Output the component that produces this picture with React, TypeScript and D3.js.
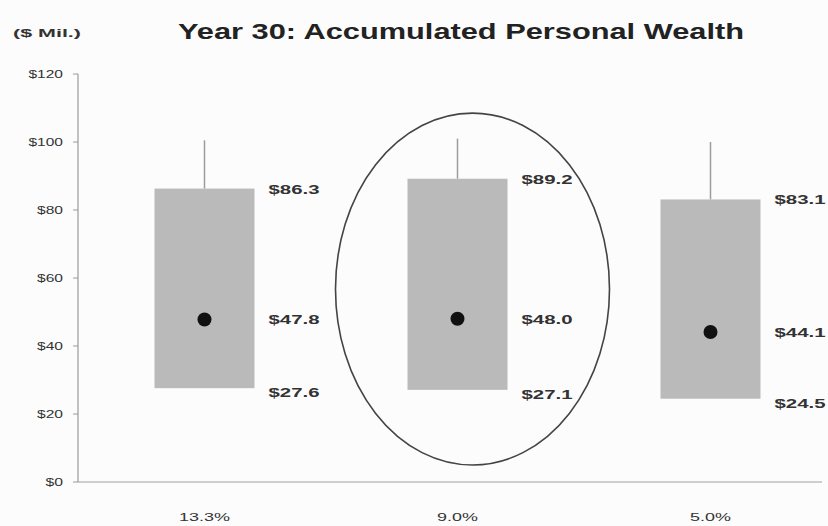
import React from "react";
import * as d3 from "d3";

const categories = ["13.3%", "9.0%", "5.0%"];
const highValues = [86.3, 89.2, 83.1];
const medianValues = [47.8, 48.0, 44.1];
const lowValues = [27.6, 27.1, 24.5];
const whiskerTops = [100.5, 101, 100];
const yTicks = [0, 20, 40, 60, 80, 100, 120];
const highlightIndex = 1;
const highlightRange = [5, 108.5];

const W = 828;
const H = 526;

export default function App() {
  const x = d3.scaleBand<string>().domain(categories).range([78, 837]).padding(0);
  const y = d3.scaleLinear().domain([0, 120]).range([482, 74]);
  const boxW = 100;
  const font = "'Liberation Sans', Arial, sans-serif";
  const cx = (i: number) => (x(categories[i]) as number) + x.bandwidth() / 2;
  const fmt = (v: number) => "$" + v.toFixed(1);

  const hx = cx(highlightIndex) + 15;
  const hy = (y(highlightRange[0]) + y(highlightRange[1])) / 2;
  const hry = (y(highlightRange[0]) - y(highlightRange[1])) / 2;

  return (
    <svg width={W} height={H} style={{ position: "absolute", left: 0, top: 0, background: "#fdfdfd" }}>
      <rect x={0} y={0} width={W} height={H} fill="#fcfcfc" />
      <text x={47} y={37} textAnchor="middle" fontFamily={font} fontSize={10} fontWeight="bold" fill="#333" textLength={68} lengthAdjust="spacingAndGlyphs">($ Mil.)</text>
      <text x={461} y={39} textAnchor="middle" fontFamily={font} fontSize={22} fontWeight="bold" fill="#222" textLength={566} lengthAdjust="spacingAndGlyphs">Year 30: Accumulated Personal Wealth</text>

      {/* y axis */}
      <line x1={78} x2={78} y1={y(120)} y2={y(0)} stroke="#9a9a9a" strokeWidth={1.2} />
      {yTicks.map((t) => (
        <g key={t}>
          <line x1={73} x2={78} y1={y(t)} y2={y(t)} stroke="#9a9a9a" strokeWidth={1} />
          <text x={63} y={y(t) + 4} textAnchor="end" fontFamily={font} fontSize={11} fill="#333" textLength={String(t).length * 8.5 + 9} lengthAdjust="spacingAndGlyphs">{"$" + t}</text>
        </g>
      ))}
      {/* x axis */}
      <line x1={78} x2={822} y1={y(0)} y2={y(0)} stroke="#a0a0a0" strokeWidth={1.2} />
      {categories.map((c, i) => (
        <text key={c} x={cx(i)} y={521} textAnchor="middle" fontFamily={font} fontSize={11} fill="#333" textLength={c.length * 10.2} lengthAdjust="spacingAndGlyphs">{c}</text>
      ))}

      {categories.map((c, i) => {
        const m = cx(i);
        return (
          <g key={"b" + c}>
            <line x1={m} x2={m} y1={y(whiskerTops[i])} y2={y(highValues[i])} stroke="#9c9c9c" strokeWidth={1.5} />
            <rect x={m - boxW / 2} y={y(highValues[i])} width={boxW} height={y(lowValues[i]) - y(highValues[i])} fill="#bababa" />
            <circle cx={m} cy={y(medianValues[i])} r={7} fill="#111" />
            {[highValues[i], medianValues[i], lowValues[i]].map((v, k) => (
              <text key={k} x={m + boxW / 2 + 14} y={y(v) + 5 + (k === 2 ? 4 : 0)} fontFamily={font} fontSize={12} fontWeight="bold" fill="#333" textLength={51} lengthAdjust="spacingAndGlyphs">{fmt(v)}</text>
            ))}
          </g>
        );
      })}

      <ellipse cx={hx} cy={hy} rx={137} ry={hry} fill="none" stroke="#444" strokeWidth={1.6} />
    </svg>
  );
}
